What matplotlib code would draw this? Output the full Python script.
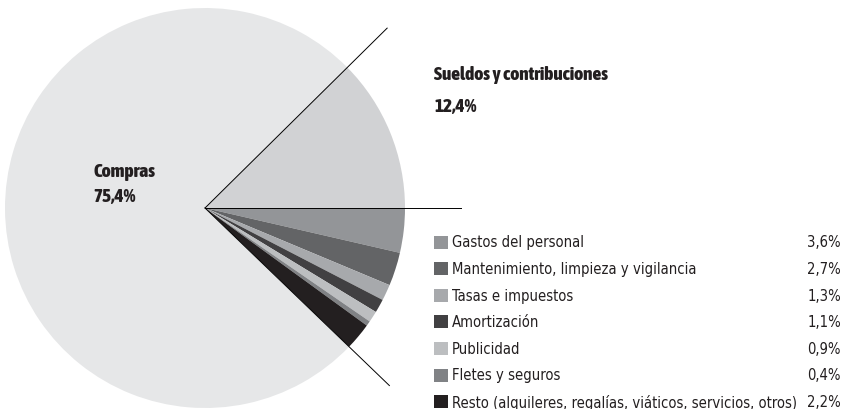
import numpy as np
import matplotlib
matplotlib.use('Agg')
import matplotlib.pyplot as plt
from matplotlib import font_manager
from matplotlib.font_manager import FontProperties
from matplotlib.patches import Rectangle

small_labels = ['Gastos del personal', 'Mantenimiento, limpieza y vigilancia',
                'Tasas e impuestos', 'Amortización', 'Publicidad',
                'Fletes y seguros',
                'Resto (alquileres, regalías, viáticos, servicios, otros)']
small_values = [3.6, 2.7, 1.3, 1.1, 0.9, 0.4, 2.2]
small_colors = ['#939598', '#636466', '#a7a9ac', '#414042', '#bcbec0',
                '#808285', '#231f20']

big_labels = ['Compras', 'Sueldos y contribuciones']
big_values = [75.4, 12.4]
big_colors = ['#e6e7e8', '#d1d2d4']


# look for a plain condensed sans face (not extra/semi/ultra condensed)
def find_face(weights):
    fonts = font_manager.fontManager.ttflist
    for f in fonts:
        key = (f.fname + ' ' + f.name).lower().replace(' ', '').replace('-', '')
        bad = ('serif', 'mono', 'semicondensed', 'extracondensed',
               'ultracondensed', 'italic')
        if ('condensed' in key or 'narrow' in key) and f.style == 'normal' \
                and not any(k in key for k in bad) and f.weight in weights:
            return FontProperties(fname=f.fname)
    return None


reg = find_face([400, 'normal', 'regular'])
bold = (find_face([800, 'extra bold']) or find_face([900, 'black', 'heavy'])
        or find_face([700, 'bold']))
if reg is None:
    reg = FontProperties(family=['Roboto', 'DejaVu Sans'])
if bold is None:
    bold = FontProperties(family=['Roboto', 'DejaVu Sans'], weight='black')


def fmt(v):
    return f'{v:.1f}%'.replace('.', ',')


W, H = 843, 410
fig = plt.figure(figsize=(W / 100, H / 100), dpi=100)
ax = fig.add_axes([0, 0, 1, 1])

cx, cy, r = 205, H - 209, 200
values = small_values + big_values
colors = small_colors + big_colors
ax.pie(values, colors=colors, startangle=0, counterclock=False,
       center=(cx, cy), radius=r, wedgeprops=dict(linewidth=0))
ax.set_xlim(0, W)
ax.set_ylim(0, H)
ax.set_aspect('equal')
ax.axis('off')

# separator lines at the edges of the small-slice block and of Sueldos
total = sum(values)
a_small_end = -360 * sum(small_values) / total
a_sueldos = 360 * big_values[1] / total
for ang in (0, a_small_end, a_sueldos):
    t = np.deg2rad(ang)
    ax.plot([cx, cx + 1.28 * r * np.cos(t)], [cy, cy + 1.28 * r * np.sin(t)],
            color='black', linewidth=0.7)

renderer = fig.canvas.get_renderer()


def fit_size(txt, target, fp, maxsize):
    f = fp.copy()
    f.set_size(10)
    t = ax.text(0, 0, txt, fontproperties=f)
    w = t.get_window_extent(renderer).width
    t.remove()
    return min(maxsize, 10 * target / w)


bfp = bold.copy()
bfp.set_size(fit_size(big_labels[1], 174, bold, 14.5))
lfp = reg.copy()
lfp.set_size(fit_size(small_labels[-1], 346, reg, 12.5))

# big labels
ax.text(93, H - 172, big_labels[0], fontproperties=bfp,
        va='center', ha='left', color='#231f20')
ax.text(93, H - 197, fmt(big_values[0]), fontproperties=bfp,
        va='center', ha='left', color='#231f20')
ax.text(434, H - 75, big_labels[1], fontproperties=bfp,
        va='center', ha='left', color='#231f20')
ax.text(434, H - 107, fmt(big_values[1]), fontproperties=bfp,
        va='center', ha='left', color='#231f20')

# legend for small slices
y0, step = H - 243, 26.6
for i, (lab, val, col) in enumerate(zip(small_labels, small_values, small_colors)):
    y = y0 - i * step
    ax.add_patch(Rectangle((434, y - 6.5), 14, 13, facecolor=col, edgecolor='none'))
    ax.text(452, y, lab, fontproperties=lfp, va='center', ha='left', color='#231f20')
    ax.text(841, y, fmt(val), fontproperties=lfp, va='center', ha='right',
            color='#231f20')

fig.savefig('out.png', dpi=100)
